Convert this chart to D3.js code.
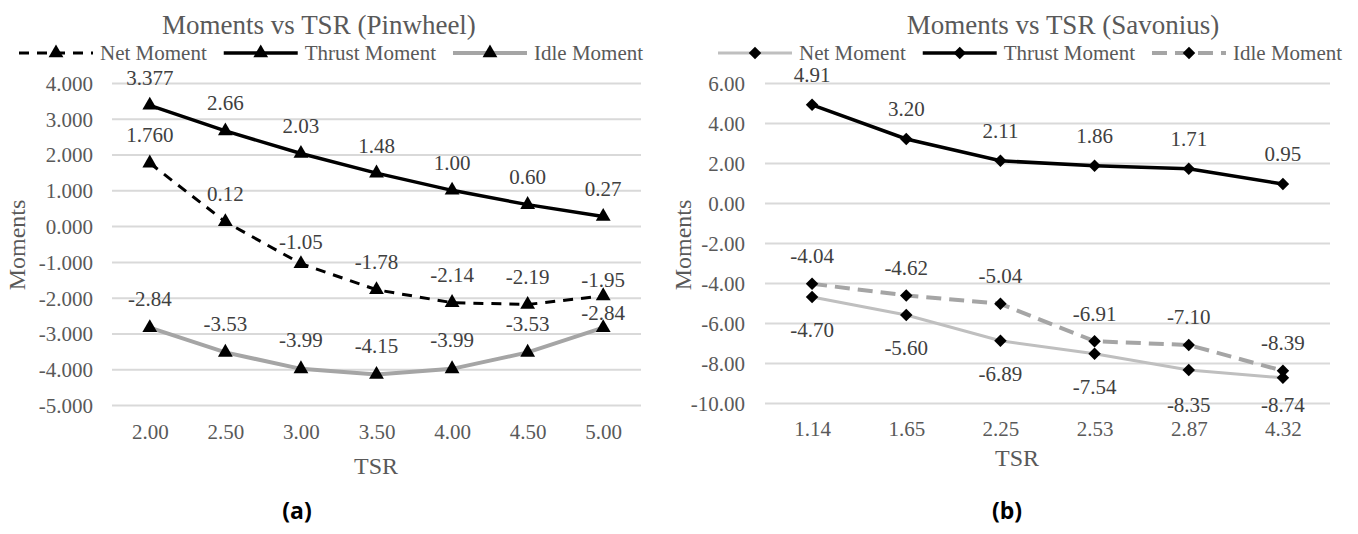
<!DOCTYPE html>
<html>
<head>
<meta charset="utf-8">
<script src="https://cdn.jsdelivr.net/npm/d3@7"></script>
<style>
body { margin: 0; background: #fff; }
svg { display: block; }
</style>
</head>
<body>
<svg id="chart" width="1358" height="534"></svg>
<script>
// (a) pinwheel
var pinTsr = ["2.00", "2.50", "3.00", "3.50", "4.00", "4.50", "5.00"];
var pinNet = [1.760, 0.12, -1.05, -1.78, -2.14, -2.19, -1.95];
var pinThrust = [3.377, 2.66, 2.03, 1.48, 1.00, 0.60, 0.27];
var pinIdle = [-2.84, -3.53, -3.99, -4.15, -3.99, -3.53, -2.84];
var pinTicks = [4, 3, 2, 1, 0, -1, -2, -3, -4, -5];

// (b) savonius
var savTsr = ["1.14", "1.65", "2.25", "2.53", "2.87", "4.32"];
var savNet = [-4.70, -5.60, -6.89, -7.54, -8.35, -8.74];
var savThrust = [4.91, 3.20, 2.11, 1.86, 1.71, 0.95];
var savIdle = [-4.04, -4.62, -5.04, -6.91, -7.10, -8.39];
var savTicks = [6, 4, 2, 0, -2, -4, -6, -8, -10];

var svg = d3.select("#chart");
var textGray = "#595959";
var serif = "'Liberation Serif', 'Times New Roman', serif";

// plain hyphen for negatives, like the excel chart
var fmt = d3.formatLocale({ decimal: ".", thousands: ",", grouping: [3], currency: ["", ""], minus: "-" }).format;

function triangle() { return d3.symbol().type(d3.symbolTriangle).size(95)(); }
function diamond() { return d3.symbol().type(d3.symbolSquare).size(78)(); }

function drawChart(cfg) {
    var g = svg.append("g");

    var x = d3.scalePoint().domain(cfg.categories).range([cfg.left, cfg.right]).padding(0.5);
    var y = d3.scaleLinear().domain(d3.extent(cfg.ticks)).range([cfg.bottom, cfg.top]);

    // gridlines
    g.append("g")
        .attr("transform", "translate(" + cfg.left + ",0)")
        .call(d3.axisLeft(y).tickValues(cfg.ticks).tickSize(-(cfg.right - cfg.left)).tickFormat(""))
        .call(function(s) {
            s.select(".domain").remove();
            s.selectAll("line").attr("stroke", "#d9d9d9").attr("stroke-width", 2);
        });

    // y tick labels
    g.append("g")
        .attr("transform", "translate(" + cfg.yLabelX + ",0)")
        .call(d3.axisLeft(y).tickValues(cfg.ticks).tickSize(0).tickPadding(0).tickFormat(fmt(cfg.yFormat)))
        .call(function(s) {
            s.select(".domain").remove();
            s.attr("font-family", serif).attr("font-size", 21);
            s.selectAll("text").attr("fill", textGray).attr("dy", "0.35em");
        });

    // x tick labels
    g.append("g")
        .attr("transform", "translate(0," + cfg.xLabelY + ")")
        .call(d3.axisBottom(x).tickSize(0).tickPadding(0))
        .call(function(s) {
            s.select(".domain").remove();
            s.attr("font-family", serif).attr("font-size", 21);
            s.selectAll("text").attr("fill", textGray).attr("dy", "0.35em");
        });

    // titles
    g.append("text")
        .attr("x", cfg.titleX).attr("y", 25).attr("dy", "0.35em")
        .attr("text-anchor", "middle").attr("font-family", serif)
        .attr("font-size", 27).attr("fill", textGray)
        .text(cfg.title);

    g.append("text")
        .attr("transform", "translate(" + cfg.yTitleX + ",245) rotate(-90)")
        .attr("dy", "0.35em").attr("text-anchor", "middle").attr("font-family", serif)
        .attr("font-size", 24).attr("fill", textGray)
        .text("Moments");

    g.append("text")
        .attr("x", cfg.xTitleX).attr("y", cfg.xTitleY).attr("dy", "0.35em")
        .attr("text-anchor", "middle").attr("font-family", serif)
        .attr("font-size", 24).attr("fill", textGray)
        .text("TSR");

    g.append("text")
        .attr("x", cfg.captionX).attr("y", 511).attr("dy", "0.35em")
        .attr("text-anchor", "middle").attr("font-size", 23).attr("font-weight", "bold")
        .attr("font-family", "'Open Sans', sans-serif").attr("fill", "#000")
        .text(cfg.caption);

    var line = d3.line()
        .x(function(d, i) { return x(cfg.categories[i]); })
        .y(function(d) { return y(d); });

    cfg.series.forEach(function(s) {
        g.append("path")
            .datum(s.values)
            .attr("d", line)
            .attr("fill", "none")
            .attr("stroke", s.color)
            .attr("stroke-width", s.width)
            .attr("stroke-dasharray", s.dash || null);
    });

    cfg.series.forEach(function(s) {
        g.append("g").selectAll("path")
            .data(s.values)
            .join("path")
            .attr("d", cfg.marker)
            .attr("transform", function(d, i) {
                return "translate(" + x(cfg.categories[i]) + "," + y(d) + ")" + (cfg.rotate ? " rotate(45)" : "");
            })
            .attr("fill", "#000");
    });

    cfg.series.forEach(function(s) {
        g.append("g").selectAll("text")
            .data(s.values)
            .join("text")
            .attr("x", function(d, i) { return x(cfg.categories[i]); })
            .attr("y", function(d, i) {
                var shift = (s.shift && s.shift[i]) || 0;
                return y(d) + s.labelOffset + shift;
            })
            .attr("dy", "0.35em")
            .attr("text-anchor", "middle")
            .attr("font-family", serif)
            .attr("font-size", 21)
            .attr("fill", "#404040")
            .text(function(d, i) {
                return fmt(i === 0 && s.firstDigits ? "." + s.firstDigits + "f" : ".2f")(d);
            });
    });

    // legend
    var lx = cfg.legendX;
    cfg.series.forEach(function(s) {
        var item = g.append("g");
        item.append("line")
            .attr("x1", lx).attr("x2", lx + 74)
            .attr("y1", 53).attr("y2", 53)
            .attr("stroke", s.color).attr("stroke-width", s.width)
            .attr("stroke-dasharray", s.dash || null);
        item.append("path")
            .attr("d", cfg.marker)
            .attr("transform", "translate(" + (lx + 37) + ",53)" + (cfg.rotate ? " rotate(45)" : ""))
            .attr("fill", "#000");
        var t = item.append("text")
            .attr("x", lx + 81).attr("y", 53).attr("dy", "0.35em")
            .attr("font-family", serif)
            .attr("font-size", 21).attr("fill", textGray)
            .text(s.name);
        lx += 81 + t.node().getComputedTextLength() + 17;
    });
}

drawChart({
    title: "Moments vs TSR (Pinwheel)",
    caption: "(a)",
    categories: pinTsr,
    ticks: pinTicks,
    yFormat: ".3f",
    left: 112, right: 641, top: 83, bottom: 405,
    yLabelX: 93, xLabelY: 432,
    titleX: 319, yTitleX: 17, xTitleX: 376, xTitleY: 466, captionX: 297,
    legendX: 19,
    marker: triangle(),
    rotate: false,
    series: [
        { name: "Net Moment", values: pinNet, color: "#000", width: 3, dash: "10,8", labelOffset: -28, firstDigits: 3, shift: { 2: 6, 6: 12 } },
        { name: "Thrust Moment", values: pinThrust, color: "#000", width: 3.5, labelOffset: -28, firstDigits: 3 },
        { name: "Idle Moment", values: pinIdle, color: "#a5a5a5", width: 4, labelOffset: -29, shift: { 6: 14 } }
    ]
});

drawChart({
    title: "Moments vs TSR (Savonius)",
    caption: "(b)",
    categories: savTsr,
    ticks: savTicks,
    yFormat: ".2f",
    left: 765, right: 1330, top: 83, bottom: 403,
    yLabelX: 745, xLabelY: 429,
    titleX: 1063, yTitleX: 683, xTitleX: 1017, xTitleY: 458, captionX: 1007,
    legendX: 718,
    marker: diamond(),
    rotate: true,
    series: [
        { name: "Net Moment", values: savNet, color: "#bfbfbf", width: 3, labelOffset: 33, shift: { 4: 2, 5: -6 } },
        { name: "Thrust Moment", values: savThrust, color: "#000", width: 3.5, labelOffset: -30 },
        { name: "Idle Moment", values: savIdle, color: "#a5a5a5", width: 4, dash: "15,8", labelOffset: -28 }
    ]
});
</script>
</body>
</html>
